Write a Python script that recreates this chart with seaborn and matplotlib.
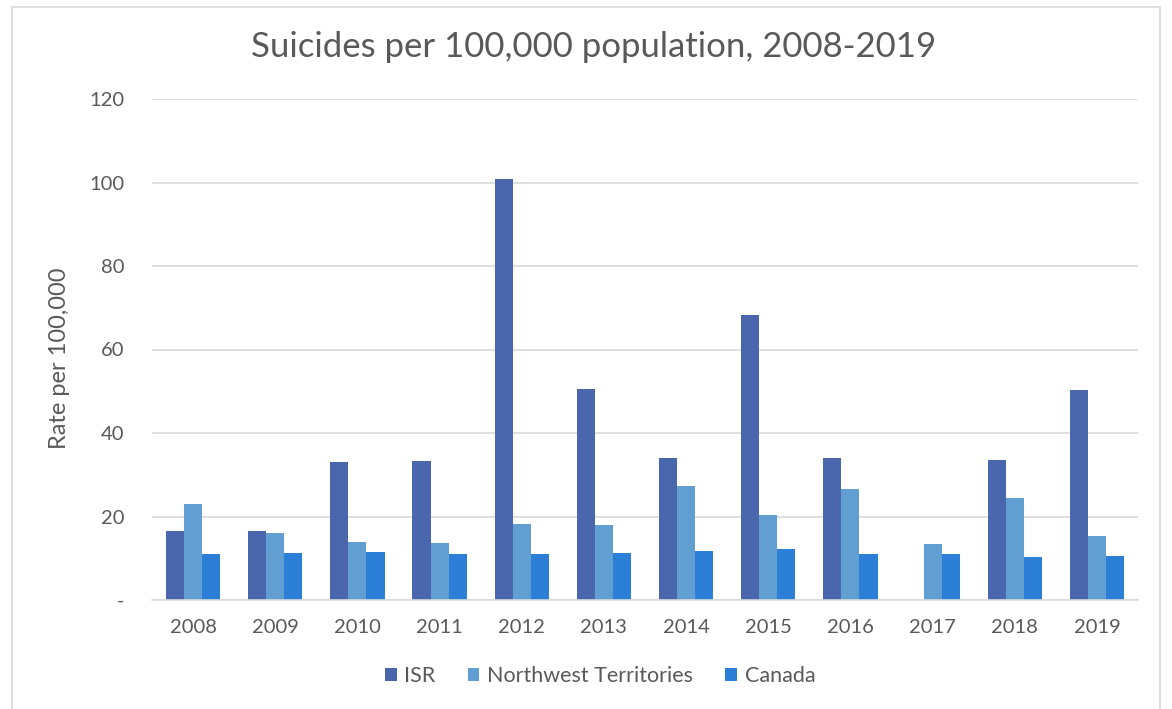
import matplotlib
matplotlib.use("Agg")
import matplotlib.pyplot as plt
import seaborn as sns
import pandas as pd
import numpy as np
from matplotlib.patches import Rectangle

years = ["2008", "2009", "2010", "2011", "2012", "2013", "2014", "2015", "2016", "2017", "2018", "2019"]
isr = [16.6, 16.6, 33.0, 33.4, 100.8, 50.6, 33.9, 68.3, 33.9, np.nan, 33.6, 50.2]
nwt = [22.9, 16.0, 13.8, 13.7, 18.3, 18.0, 27.2, 20.3, 26.7, 13.3, 24.4, 15.4]
canada = [10.9, 11.3, 11.5, 11.1, 11.1, 11.3, 11.8, 12.1, 10.9, 11.1, 10.2, 10.6]
series_names = ["ISR", "Northwest Territories", "Canada"]
colors = ["#4a67ad", "#619ed2", "#2b7fd6"]
yticks = [0, 20, 40, 60, 80, 100, 120]
ytick_labels = ["-", "20", "40", "60", "80", "100", "120"]

rows = []
for name, vals in zip(series_names, [isr, nwt, canada]):
    for y, v in zip(years, vals):
        rows.append({"Year": y, "Series": name, "Rate": v})
df = pd.DataFrame(rows)

sns.set_theme(style="white")
plt.rcParams['font.family'] = ['Lato', 'DejaVu Sans']
text_color = "#595959"

fig = plt.figure(figsize=(11.72, 7.09), dpi=100)
ax = fig.add_axes([152/1172, 1 - 600/709, (1138-152)/1172, (600-99)/709])

sns.barplot(data=df, x="Year", y="Rate", hue="Series", hue_order=series_names,
            palette=colors, width=0.66, ax=ax, saturation=1, edgecolor="none",
            linewidth=0, errorbar=None)

ax.set_ylim(0, 120)
ax.set_xlim(-0.5, 11.5)
ax.set_yticks(yticks)
ax.set_yticklabels(ytick_labels, fontsize=14.5, color=text_color)
ax.tick_params(axis="x", labelsize=14.5, labelcolor=text_color, length=0, pad=14)
ax.tick_params(axis="y", length=0, pad=20)
for lab in ax.get_yticklabels():
    lab.set_horizontalalignment("right")
ax.yaxis.grid(True, color="#d9d9d9", linewidth=1.2)
ax.set_axisbelow(True)
for s in ["top", "right", "left"]:
    ax.spines[s].set_visible(False)
ax.spines["bottom"].set_color("#d9d9d9")
ax.spines["bottom"].set_linewidth(1.2)
ax.set_xlabel("")
ax.set_ylabel("Rate per 100,000", fontsize=17, color=text_color)
ax.yaxis.set_label_coords((70 - 152) / (1138 - 152), (600 - 358) / (600 - 99))
ax.set_title("")

fig.text(594/1172, 1 - 47/709, "Suicides per 100,000 population, 2008-2019",
         ha="center", va="center", fontsize=25, color=text_color)

leg = ax.legend(loc="center", bbox_to_anchor=(600/1172, 1 - 676/709),
                bbox_transform=fig.transFigure, ncol=3, frameon=False,
                fontsize=15.5, handlelength=0.55, handleheight=0.55,
                handletextpad=0.35, columnspacing=1.5)
for t in leg.get_texts():
    t.set_color(text_color)

fig.patches.append(Rectangle((12/1172, -0.01), (1160-12)/1172, 1 - 7/709 + 0.01,
                             transform=fig.transFigure, fill=False,
                             edgecolor="#d9d9d9", linewidth=1.2))

fig.savefig("out.png", dpi=100)
